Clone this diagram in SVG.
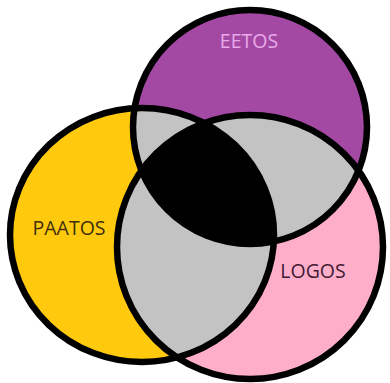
<svg xmlns="http://www.w3.org/2000/svg" width="390" height="383" viewBox="0 0 390 383">
  <style>
    .ring { fill: none; stroke: #000; stroke-width: 6.5; }
    .lbl { font-family: "Open Sans", "Liberation Sans", sans-serif; font-size: 19.5px; text-anchor: middle; }
  </style>
  <defs>
    <clipPath id="cpP"><ellipse cx="142" cy="235" rx="132" ry="127"/></clipPath>
    <clipPath id="cpE"><ellipse cx="250" cy="127" rx="117" ry="117"/></clipPath>
    <clipPath id="cpL"><ellipse cx="250" cy="247" rx="133" ry="132"/></clipPath>
  </defs>
  <rect width="390" height="383" fill="#fff"/>
  <g id="paatos-fill"><ellipse cx="142" cy="235" rx="132" ry="127" fill="#FFC90E"/></g>
  <g id="eetos-fill"><ellipse cx="250" cy="127" rx="117" ry="117" fill="#A349A4"/></g>
  <g id="logos-fill"><ellipse cx="250" cy="247" rx="133" ry="132" fill="#FFAEC9"/></g>
  <g id="overlaps">
    <ellipse cx="142" cy="235" rx="132" ry="127" fill="#C3C3C3" clip-path="url(#cpE)"/>
    <ellipse cx="142" cy="235" rx="132" ry="127" fill="#C3C3C3" clip-path="url(#cpL)"/>
    <ellipse cx="250" cy="127" rx="117" ry="117" fill="#C3C3C3" clip-path="url(#cpL)"/>
    <g clip-path="url(#cpL)">
      <ellipse cx="142" cy="235" rx="132" ry="127" fill="#000" clip-path="url(#cpE)"/>
    </g>
  </g>
  <g id="connectors"></g>
  <g id="paatos">
    <ellipse class="ring" cx="142" cy="235" rx="132" ry="127"/>
    <text class="lbl" x="69" y="235" fill="#3E2E0C">PAATOS</text>
  </g>
  <g id="eetos">
    <ellipse class="ring" cx="250" cy="127" rx="117" ry="117"/>
    <text class="lbl" x="249" y="48" fill="#E9A9E9">EETOS</text>
  </g>
  <g id="logos">
    <ellipse class="ring" cx="250" cy="247" rx="133" ry="132"/>
    <text class="lbl" x="313" y="278" fill="#3E1A33">LOGOS</text>
  </g>
</svg>
